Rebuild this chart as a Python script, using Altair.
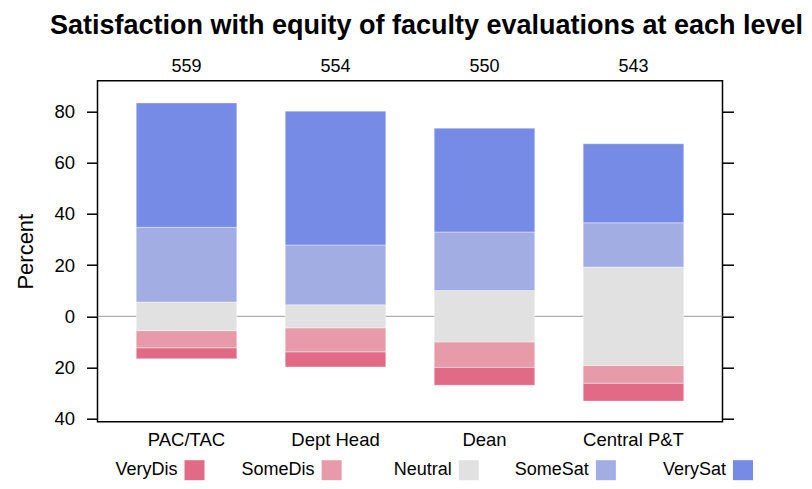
import altair as alt
import pandas as pd

categories = ["PAC/TAC", "Dept Head", "Dean", "Central P&T"]
counts = [559, 554, 550, 543]
levels = ["VeryDis", "SomeDis", "Neutral", "SomeSat", "VerySat"]
very_dis = [4.3, 5.9, 7.0, 7.0]
some_dis = [6.7, 9.4, 9.9, 6.9]
neutral = [11.2, 9.0, 20.1, 38.5]
some_sat = [29.2, 23.4, 22.9, 17.3]
very_sat = [48.6, 52.3, 40.6, 30.9]
colors = ["#E16A87", "#E79AAA", "#E1E1E1", "#A2AEE3", "#768BE5"]
tick_vals = [-40, -20, 0, 20, 40, 60, 80]

# diverging stack: neutral split half below / half above zero
rows = []
for i, c in enumerate(categories):
    h = neutral[i] / 2
    segs = [
        ("VeryDis", -h - some_dis[i] - very_dis[i], -h - some_dis[i]),
        ("SomeDis", -h - some_dis[i], -h),
        ("Neutral", -h, h),
        ("SomeSat", h, h + some_sat[i]),
        ("VerySat", h + some_sat[i], h + some_sat[i] + very_sat[i]),
    ]
    for lev, s, e in segs:
        rows.append({"category": c, "level": lev, "start": s, "end": e})
seg_df = pd.DataFrame(rows)
count_df = pd.DataFrame({"category": categories, "count": counts})
zero_df = pd.DataFrame({"y": [0]})
legend_df = pd.DataFrame({"level": levels})

yscale = alt.Scale(domain=[-41.2, 92.1], nice=False, zero=False)
xscale = alt.Scale(domain=categories, paddingInner=0.325, paddingOuter=0.26)
cscale = alt.Scale(domain=levels, range=colors)

x_axis = alt.Axis(title=None, labelFontSize=18.5, ticks=False, domain=False,
                  labelPadding=9, labelAngle=0, labelColor="black", grid=False)

zero = alt.Chart(zero_df).mark_rule(color="#9a9a9a", strokeWidth=1).encode(
    y=alt.Y("y:Q", scale=yscale,
            axis=alt.Axis(orient="right", values=tick_vals, labels=False, title=None,
                          domain=False, grid=False, tickSize=11, tickColor="black",
                          tickWidth=1.5))
)

bars = alt.Chart(seg_df).mark_bar(stroke="white", strokeWidth=0.6, strokeOpacity=0.6).encode(
    x=alt.X("category:N", scale=xscale, axis=x_axis),
    y=alt.Y("start:Q", scale=yscale,
            axis=alt.Axis(title="Percent", titleFontSize=22, titleFontWeight="normal",
                          titleColor="black", titlePadding=16, values=tick_vals,
                          labelExpr="'' + abs(datum.value)", labelFontSize=18.5,
                          labelColor="black", labelPadding=12, tickSize=11,
                          tickWidth=1.5, tickColor="black", domain=False, grid=False)),
    y2="end:Q",
    color=alt.Color("level:N", scale=cscale, legend=None),
)

count_text = alt.Chart(count_df).mark_text(fontSize=18, baseline="alphabetic", color="black").encode(
    x=alt.X("category:N", scale=xscale, axis=x_axis),
    y=alt.value(-9),
    text="count:Q",
)

inner = alt.layer(zero, bars, count_text).resolve_axis(y="independent")

lx = alt.X("level:N", scale=alt.Scale(type="point", domain=levels, range=[97, 645.5], padding=0),
           axis=None)
leg_sq = alt.Chart(legend_df).mark_square(size=400, opacity=1).encode(
    x=lx, y=alt.value(389.5),
    color=alt.Color("level:N", scale=cscale, legend=None),
)
leg_txt = alt.Chart(legend_df).mark_text(align="right", baseline="middle", dx=-17,
                                         fontSize=18, color="black").encode(
    x=lx, y=alt.value(389.5), text="level:N",
)
legend_layer = alt.layer(leg_sq, leg_txt)

chart = alt.layer(inner, legend_layer).resolve_scale(x="independent").properties(
    width=625,
    height=341,
    padding={"left": 89.5, "top": 72.7, "right": 80, "bottom": 59.3},
    autosize=alt.AutoSizeParams(type="none"),
    title=alt.TitleParams(
        "Satisfaction with equity of faculty evaluations at each level",
        fontSize=27, fontWeight="bold", anchor="middle", dx=16.5, offset=18,
        color="black",
    ),
).configure(font="Liberation Sans", background="white").configure_view(
    stroke="black", strokeWidth=1.5
)

chart.save("out.html", embed_options={"renderer": "svg", "actions": False})
